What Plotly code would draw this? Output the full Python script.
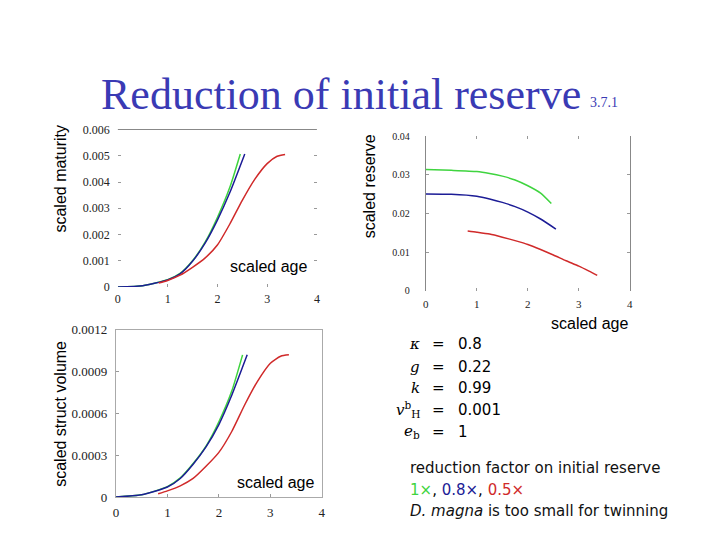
import plotly.graph_objects as go

W, H = 720, 540

# ---- data ----
age_green = [0, 0.5, 1, 1.25, 1.5, 1.75, 2, 2.25, 2.46]
age_blue = [0, 0.5, 1, 1.25, 1.5, 1.75, 2, 2.25, 2.55]
age_red = [0.82, 1, 1.25, 1.5, 1.75, 2, 2.25, 2.5, 2.75, 3, 3.2, 3.36]

maturity_green = [0, 0.00005, 0.00028, 0.00052, 0.001, 0.0017, 0.00265, 0.0038, 0.00507]
maturity_blue = [0, 0.00005, 0.00027, 0.0005, 0.00098, 0.00166, 0.00255, 0.0036, 0.00507]
maturity_red = [0.00015, 0.00025, 0.00045, 0.00075, 0.0011, 0.0016, 0.0024, 0.0033, 0.0041, 0.0047, 0.00498, 0.00505]

reserve_green = [0.0314, 0.0312, 0.0309, 0.0304, 0.0297, 0.0287, 0.0272, 0.0253, 0.0226]
reserve_blue = [0.0251, 0.025, 0.0245, 0.0238, 0.0229, 0.0218, 0.0204, 0.0186, 0.016]
reserve_red = [0.0155, 0.0152, 0.0147, 0.0139, 0.013, 0.012, 0.0107, 0.0093, 0.0078, 0.0064, 0.0051, 0.004]

volume_green = [0, 0.000016, 0.000074, 0.000137, 0.00024, 0.000365, 0.00054, 0.00076, 0.00102]
volume_blue = [0, 0.000016, 0.000072, 0.000133, 0.000235, 0.00036, 0.00052, 0.00073, 0.00102]
volume_red = [0.000023, 0.000044, 0.00008, 0.000133, 0.00022, 0.00032, 0.00047, 0.00066, 0.00083, 0.00096, 0.00101, 0.00102]

x_ticks = [0, 1, 2, 3, 4]
maturity_ticks = [0, 0.001, 0.002, 0.003, 0.004, 0.005, 0.006]
maturity_labels = ["0", "0.001", "0.002", "0.003", "0.004", "0.005", "0.006"]
reserve_ticks = [0, 0.01, 0.02, 0.03, 0.04]
reserve_labels = ["0", "0.01", "0.02", "0.03", "0.04"]
volume_ticks = [0, 0.0003, 0.0006, 0.0009, 0.0012]
volume_labels = ["0", "0.0003", "0.0006", "0.0009", "0.0012"]

GREEN = "#3fd43f"
BLUE = "#1c1c96"
RED = "#d02a2a"
TITLE_COLOR = "#3a3ab4"

fig = go.Figure()

panels = [
    ("x", "y", maturity_green, maturity_blue, maturity_red),
    ("x2", "y2", reserve_green, reserve_blue, reserve_red),
    ("x3", "y3", volume_green, volume_blue, volume_red),
]
for xa, ya, g, b, r in panels:
    for ages, vals, col in [(age_green, g, GREEN), (age_blue, b, BLUE), (age_red, r, RED)]:
        fig.add_trace(go.Scatter(x=ages, y=vals, mode="lines", xaxis=xa, yaxis=ya,
                                 line=dict(color=col, width=1.5, shape="spline", smoothing=0.6),
                                 showlegend=False, hoverinfo="skip"))


def px(x):
    return x / W


def py(y):
    return 1 - y / H


def common(size, standoff):
    return dict(showgrid=False, zeroline=False,
                tickfont=dict(family="Liberation Serif", size=size, color="#222222"),
                ticks="inside", ticklen=3, tickcolor="#999999", fixedrange=True,
                ticklabelstandoff=standoff)


layout = dict(
    width=W, height=H, margin=dict(l=0, r=0, t=0, b=0),
    paper_bgcolor="white", plot_bgcolor="white", showlegend=False,
    xaxis=dict(domain=[px(116), px(317)], range=[0, 4], tickvals=x_ticks, anchor="y",
               showline=False, side="bottom", **common(12, 3)),
    yaxis=dict(domain=[py(288), py(126)], range=[0, 0.006], tickvals=maturity_ticks,
               ticktext=maturity_labels, anchor="x", showline=False, mirror="ticks", **common(12, 7)),
    xaxis2=dict(domain=[px(427), px(633)], range=[0, 4], tickvals=x_ticks, anchor="y2",
                showline=False, mirror="ticks", **common(11, 5)),
    yaxis2=dict(domain=[py(292), py(133)], range=[0, 0.04], tickvals=reserve_ticks,
                ticktext=reserve_labels, anchor="x2", showline=True, linecolor="#888888",
                mirror="ticks", **common(10, 13)),
    xaxis3=dict(domain=[px(114), px(322)], range=[0, 4], tickvals=x_ticks, anchor="y3",
                showline=True, linecolor="#aaaaaa", mirror=True, **common(13, 3)),
    yaxis3=dict(domain=[py(504), py(332)], range=[0, 0.0012], tickvals=volume_ticks,
                ticktext=volume_labels, anchor="x3", showline=True, linecolor="#aaaaaa",
                mirror=True, **common(13, 5)),
)
fig.update_layout(**layout)

# top border line of first panel
fig.add_shape(type="line", xref="x domain", yref="y domain", x0=0, x1=1, y0=1, y1=1,
              line=dict(color="#888888", width=1))

ann = []


def text(x, y, s, size=16, color="#000000", family="Liberation Sans", angle=0, xanchor="center"):
    ann.append(dict(x=px(x), y=py(y), xref="paper", yref="paper", text=s, showarrow=False,
                    font=dict(family=family, size=size, color=color), textangle=angle,
                    xanchor=xanchor, yanchor="middle"))


# title
text(97, 90, "Reduction of initial reserve", size=44, color=TITLE_COLOR,
     family="Liberation Serif", xanchor="left")
text(591, 98, "3.7.1", size=14, color=TITLE_COLOR, family="Liberation Serif", xanchor="left")

# axis labels
text(58, 176, "scaled maturity", angle=-90)
text(370, 184, "scaled reserve", angle=-90)
text(58, 418, "scaled struct volume", angle=-90)
text(268, 267, "scaled age")
text(592, 326, "scaled age")
text(275, 489, "scaled age")

# parameter block
params = [("<i>κ</i>", "0.8", 347), ("<i>g</i>", "0.22", 370), ("<i>k</i>", "0.99", 392),
          ("<i>v</i><sup>b</sup><sub>H</sub>", "0.001", 414), ("<i>e</i><sub>b</sub>", "1", 437)]
for sym, val, yy in params:
    text(423, yy, sym, size=15, family="DejaVu Serif", xanchor="right")
    text(440, yy, "=", size=15, family="DejaVu Sans")
    text(457, yy, val, size=15, family="DejaVu Sans", xanchor="left")

text(409, 474, "reduction factor on initial reserve", size=15, family="DejaVu Sans", color="#111111",
     xanchor="left")
text(409, 497, f"<span style='color:{GREEN}'>1×</span>, <span style='color:{BLUE}'>0.8×</span>, "
               f"<span style='color:{RED}'>0.5×</span>", size=15, family="DejaVu Sans", xanchor="left")
text(409, 518, "<i>D. magna</i> is too small for twinning", size=15, family="DejaVu Sans",
     color="#111111", xanchor="left")

fig.update_layout(annotations=ann)
fig.write_html("out.html", config={"displayModeBar": False},
               post_script="document.body.style.margin='0';")
